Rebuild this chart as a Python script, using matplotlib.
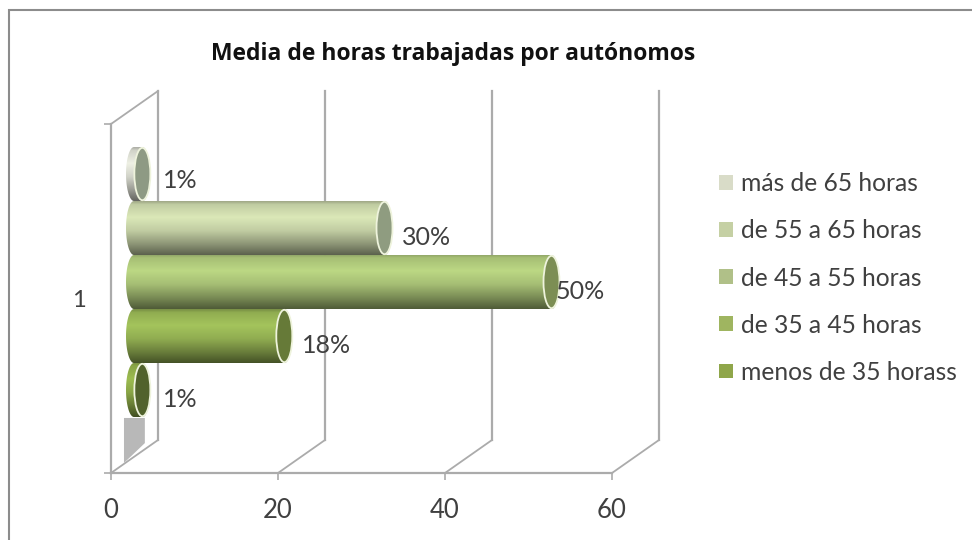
import numpy as np
import matplotlib
matplotlib.use("Agg")
import matplotlib.pyplot as plt
from matplotlib.colors import to_rgb
from matplotlib.lines import Line2D
from matplotlib.patches import PathPatch, Ellipse, Rectangle
from matplotlib.path import Path
from matplotlib.transforms import Affine2D

# ---- data ----
series = ["menos de 35 horass", "de 35 a 45 horas", "de 45 a 55 horas",
          "de 55 a 65 horas", "más de 65 horas"]
values = [1, 18, 50, 30, 1]
category = ["1"]
x_ticks = [0, 20, 40, 60]
title = "Media de horas trabajadas por autónomos"

# ---- styles ----
legend_colors = ["#8fa64a", "#9fb560", "#b0c088", "#c5d0a4", "#d9dcc8"]
body_colors = ["#9cbc50", "#a4c45c", "#bcd884", "#dbe8b8", "#eef0e4"]
cap_colors = ["#51622c", "#667a38", "#7c8e54", "#8f9c80", "#8e9a84"]
label_dx = [21, 18, 4, 18, 21]
label_dy = [-7, -7, -7, -7, -5]
FONT = "Lato"
GRID = "#ababab"
TXT = "#404040"

W, H = 972, 540
fig = plt.figure(figsize=(W / 100, H / 100), dpi=100, facecolor="white")
fig.add_artist(Line2D([9 / W, 9 / W, 1], [0, 1 - 10 / H, 1 - 10 / H], transform=fig.transFigure,
                      color="#8c8c8c", lw=1.5, solid_joinstyle="miter"))

L, R, B, T = 111, 612, 473, 124
ax = fig.add_axes([L / W, 1 - B / H, (R - L) / W, (B - T) / H])
ax.patch.set_visible(False)

px = 1 / ((R - L) / 60)       # one pixel in x data units
py = 1 / (B - T)              # one pixel in y data units
wall = ax.transData + Affine2D().translate(47, 33)
mid = ax.transData + Affine2D().translate(23, 17)

# depth walls and gridlines
for x in x_ticks:
    ax.plot([x, x], [0, 1], color=GRID, lw=1.6, transform=wall, clip_on=False, zorder=1)
    ax.plot([x, x + 47 * px], [0, 33 * py], color=GRID, lw=1.3, clip_on=False, zorder=1)
ax.plot([0, 47 * px], [1, 1 + 33 * py], color=GRID, lw=1.3, clip_on=False, zorder=1)

# shadow on the floor
shadow_x = [-1.2, 1.3, 1.3, -1.2]
shadow_y = [-0.02, 0.037, 0.109, 0.109]
ax.fill(shadow_x, shadow_y, color="#b8b8b8", transform=mid, clip_on=False, zorder=1.5, lw=0)

slot = 54 * py
cap = 8 * px


def gradient(base):
    b = np.array(to_rgb(base))
    pos = [0, .06, .3, .55, .8, 1]
    f = [.72, .88, 1, .88, .64, .42]
    t = np.linspace(0, 1, 120)
    fac = np.interp(t, pos, f)
    return (fac[:, None] * b)[:, None, :]


for i in [4, 3, 2, 0, 1]:
    v = values[i]
    yc = 0.4985 + (i - 2) * slot
    h = slot
    ang = np.linspace(np.pi / 2, 3 * np.pi / 2, 40)
    xs = np.r_[cap * np.cos(ang), v + cap * np.cos(ang + np.pi)]
    ys = np.r_[yc + h / 2 * np.sin(ang), yc + h / 2 * np.sin(ang + np.pi)]
    verts = np.c_[xs, ys]
    patch = PathPatch(Path(np.vstack([verts, verts[0]]), closed=True), fc="none", ec="none",
                      transform=mid, clip_on=False, zorder=2 + i * .01)
    ax.add_patch(patch)
    im = ax.imshow(gradient(body_colors[i]), extent=[-cap, v + cap, yc - h / 2, yc + h / 2], aspect="auto",
                   origin="upper", interpolation="bilinear", zorder=2 + i * .01)
    im.set_transform(mid)
    im.set_clip_path(patch)
    ax.add_patch(Ellipse((v, yc), 2 * cap, h * .97, fc=cap_colors[i], ec="#eef3dc", lw=1.3,
                         transform=mid, clip_on=False, zorder=2.1 + i * .01))
    ax.annotate(f"{v}%", xy=(v + cap, yc), xycoords=mid, xytext=(label_dx[i] * .72 - 6, label_dy[i]),
                textcoords="offset points", ha="left", va="center", fontsize=18, family=FONT,
                color=TXT, zorder=5, annotation_clip=False)

ax.set_xlim(0, 60)
ax.set_ylim(0, 1)
for s in ["top", "right"]:
    ax.spines[s].set_visible(False)
for s in ["left", "bottom"]:
    ax.spines[s].set_color(GRID)
    ax.spines[s].set_linewidth(1.6)
    ax.spines[s].set_zorder(1)

ax.set_xticks(x_ticks)
ax.set_yticks([0, 1])
ax.set_yticklabels([])
ax.set_yticks([.5], labels=category, minor=True)
ax.tick_params(axis="x", length=5, width=1.2, color=GRID, labelsize=18.5, labelcolor=TXT, pad=13)
ax.tick_params(axis="y", which="major", length=5, width=1.2, color=GRID)
ax.tick_params(axis="y", which="minor", length=0, labelsize=17, labelcolor=TXT, pad=18)
for t in ax.get_xticklabels() + ax.get_yticklabels(minor=True):
    t.set_family(FONT)
for t in ax.get_yticklabels(minor=True):
    t.set_y(.5 - 3 * py)

fig.text(453 / W, 1 - 54 / H, title, ha="center", va="center", fontsize=16.5, fontweight="bold",
         family="Open Sans", color="#111111")

# legend, top entry = last series
handles = [Rectangle((0, 0), 1, 1, fc=legend_colors[i], ec="none") for i in range(4, -1, -1)]
labels = [series[i] for i in range(4, -1, -1)]
leg = fig.legend(handles, labels, loc="center left", bbox_to_anchor=(719 / W, 1 - 278 / H), frameon=False,
                 prop={"family": FONT, "size": 17.7}, labelcolor=TXT, handlelength=.55, handleheight=.55,
                 handletextpad=.36, labelspacing=.98, borderpad=0, borderaxespad=0)

fig.savefig("out.png", dpi=100, facecolor="white")
